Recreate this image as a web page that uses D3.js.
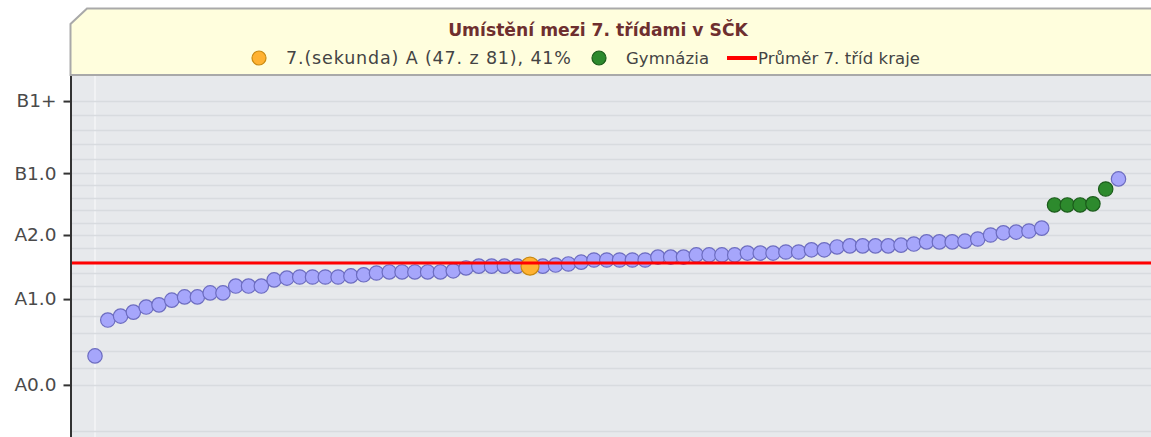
<!DOCTYPE html>
<html>
<head>
<meta charset="utf-8">
<script src="https://cdn.jsdelivr.net/npm/d3@7"></script>
<style>
  body { margin: 0; background: #fff; }
  text { font-family: "DejaVu Sans", Verdana, sans-serif; }
</style>
</head>
<body>
<div id="chart"></div>
<script>
const width = 1151;
const height = 437;

// y positions are on a 0-100 score scale
const tickLabels = ["A0.0", "A1.0", "A2.0", "B1.0", "B1+"];
const tickValues = [14.4, 38.1, 55.8, 72.9, 92.8];
const extraGrid = [1.7];

// 81 classes sorted by score
const classScores = [
  22.4, 32.3, 33.4, 34.5, 35.9, 36.5, 37.8, 38.7, 38.7, 39.8,
  39.8, 41.7, 41.7, 41.7, 43.4, 43.9, 44.2, 44.2, 44.2, 44.2,
  44.5, 44.8, 45.3, 45.6, 45.6, 45.6, 45.6, 45.6, 45.9, 46.7,
  47.2, 47.2, 47.2, 47.2, 47.2, 47.2, 47.5, 47.8, 48.3, 48.9,
  48.9, 48.9, 48.9, 48.9, 49.7, 49.7, 49.7, 50.3, 50.3, 50.3,
  50.3, 50.8, 50.8, 50.8, 51.1, 51.1, 51.7, 51.7, 52.5, 52.8,
  52.8, 52.8, 52.8, 53.0, 53.3, 53.9, 53.9, 53.9, 54.1, 54.7,
  55.8, 56.4, 56.6, 56.9, 57.7, 64.1, 64.1, 64.1, 64.4, 68.5,
  71.3
];
const highlightIndex = 34;           // 47. z 81
const gymnaziaIndexes = [75, 76, 77, 78, 79];
const regionAverage = 48.1;

const legendItems = [
  { type: "dot", fill: "#ffb232", stroke: "#c98a12", text: "7.(sekunda) A (47. z 81), 41%", x: 259, len: 285, size: 17.5 },
  { type: "dot", fill: "#2d8a2d", stroke: "#1b5c1b", text: "Gymnázia", x: 599, len: 83, size: 16.5 },
  { type: "line", fill: "#ff0000", text: "Průměr 7. tříd kraje", x: 727, len: 162, size: 16.5 }
];

const plotLeft = 71;
const plotTop = 75;

const svg = d3.select("#chart")
    .append("svg")
    .attr("width", width)
    .attr("height", height)
    .attr("viewBox", `0 0 ${width} ${height}`);

const y = d3.scaleLinear().domain([0, 100]).range([height, plotTop]);
const x = d3.scaleLinear().domain([0, classScores.length - 1]).range([95, 1118.5]);

drawPlot();
drawHeader();

function drawPlot(){
  svg.append("rect")
     .attr("x", plotLeft)
     .attr("y", plotTop)
     .attr("width", width - plotLeft)
     .attr("height", height - plotTop)
     .attr("fill", "#e7e9ec");

  // minor grid: 5 steps inside each tick interval
  let gridValues = [...extraGrid];
  for(let i = 0; i < tickValues.length - 1; ++i){
    const step = (tickValues[i + 1] - tickValues[i]) / 5;
    for(let k = 0; k < 5; ++k) gridValues.push(tickValues[i] + k * step);
  }
  gridValues.push(tickValues[tickValues.length - 1]);

  svg.append("line")
     .attr("x1", x(0)).attr("x2", x(0))
     .attr("y1", plotTop).attr("y2", height)
     .attr("stroke", "#f1f2f4")
     .attr("stroke-width", 2);

  svg.selectAll(".grid")
     .data(gridValues)
     .enter()
     .append("line")
     .attr("class", "grid")
     .attr("x1", plotLeft)
     .attr("x2", width)
     .attr("y1", d => Math.round(y(d)) + 0.5)
     .attr("y2", d => Math.round(y(d)) + 0.5)
     .attr("stroke", "#d8dbdf")
     .attr("stroke-width", 1.5);

  svg.selectAll(".dot")
     .data(classScores)
     .enter()
     .append("circle")
     .attr("class", "dot")
     .attr("cx", (d, i) => x(i))
     .attr("cy", d => y(d))
     .attr("r", (d, i) => i === highlightIndex ? 9 : 7.2)
     .attr("fill", (d, i) => dotFill(i))
     .attr("stroke", (d, i) => dotStroke(i))
     .attr("stroke-width", 1.2);

  // keep the highlighted class on top
  svg.selectAll(".dot").filter((d, i) => i === highlightIndex).raise();

  svg.append("line")
     .attr("x1", plotLeft)
     .attr("x2", width)
     .attr("y1", y(regionAverage))
     .attr("y2", y(regionAverage))
     .attr("stroke", "#ff0000")
     .attr("stroke-width", 3);

  const axis = svg.append("g")
     .attr("transform", `translate(${plotLeft - 0.5},0)`)
     .call(d3.axisLeft(y)
             .tickValues(tickValues)
             .tickFormat((d, i) => tickLabels[i])
             .tickSize(7)
             .tickSizeOuter(0)
             .tickPadding(7));
  axis.select(".domain").attr("stroke", "#333").attr("stroke-width", 2);
  axis.selectAll(".tick line").attr("stroke", "#333").attr("stroke-width", 2);
  axis.selectAll(".tick text")
      .attr("font-family", "DejaVu Sans, Verdana, sans-serif")
      .attr("font-size", 18.5)
      .attr("fill", "#4a4a4a");
}

function drawHeader(){
  svg.append("path")
     .attr("d", `M${plotLeft - 0.5},${plotTop} L${plotLeft - 0.5},24 L87,8.5 L${width + 2},8.5 L${width + 2},${plotTop} Z`)
     .attr("fill", "#fffedd")
     .attr("stroke", "#a9a9a9")
     .attr("stroke-width", 2);

  svg.append("text")
     .attr("x", 598)
     .attr("y", 36)
     .attr("text-anchor", "middle")
     .attr("font-size", 17.2)
     .attr("font-weight", "bold")
     .attr("fill", "#6e2f2f")
     .text("Umístění mezi 7. třídami v SČK");

  const items = svg.selectAll(".legend")
     .data(legendItems)
     .enter()
     .append("g")
     .attr("class", "legend")
     .attr("transform", d => `translate(${d.x},58)`);

  items.filter(d => d.type === "dot")
       .append("circle")
       .attr("r", 7)
       .attr("fill", d => d.fill)
       .attr("stroke", d => d.stroke)
       .attr("stroke-width", 1.2);

  items.filter(d => d.type === "line")
       .append("rect")
       .attr("x", 0)
       .attr("y", -2)
       .attr("width", 30)
       .attr("height", 4)
       .attr("fill", d => d.fill);

  items.append("text")
       .attr("x", d => d.type === "dot" ? 27 : 31)
       .attr("y", 6)
       .attr("font-size", d => d.size)
       .attr("fill", "#444")
       .attr("textLength", d => d.len)
       .attr("lengthAdjust", "spacing")
       .text(d => d.text);
}

function dotFill(i){
  if(i === highlightIndex) return "#ffb232";
  else if(gymnaziaIndexes.includes(i)) return "#2d8a2d";
  else return "#a6a6fb";
}
function dotStroke(i){
  if(i === highlightIndex) return "#c98a12";
  else if(gymnaziaIndexes.includes(i)) return "#1b5c1b";
  else return "#6c6cc0";
}
</script>
</body>
</html>
